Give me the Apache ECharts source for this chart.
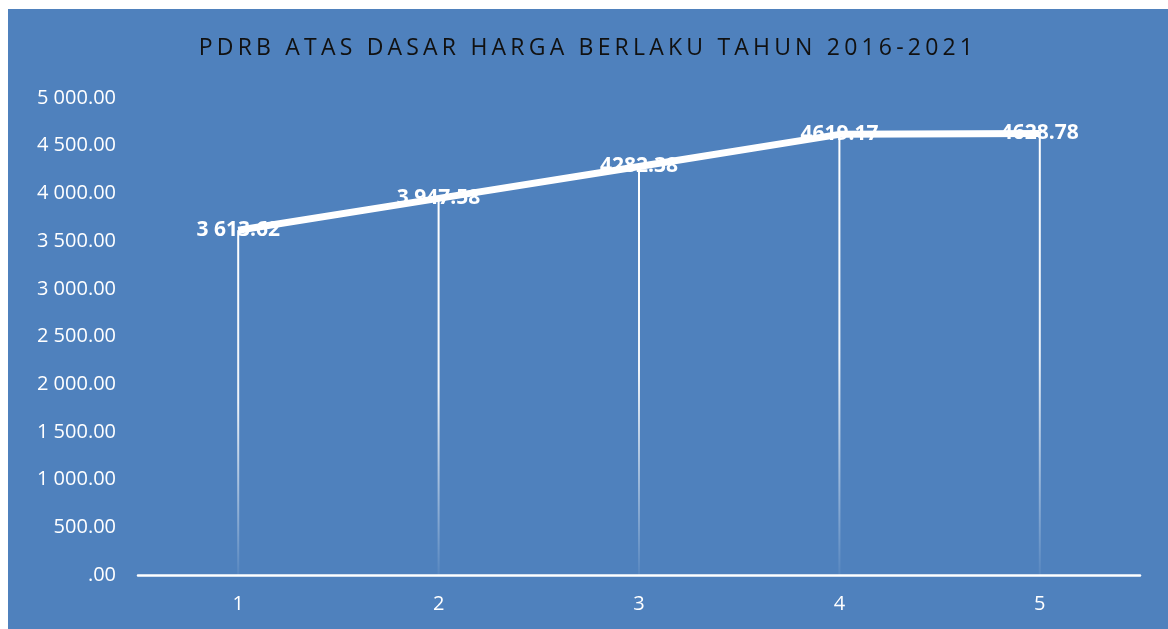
<!DOCTYPE html>
<html>
<head>
<meta charset="utf-8">
<script src="https://cdn.jsdelivr.net/npm/echarts@6/dist/echarts.min.js"></script>
<style>
  html, body { margin: 0; padding: 0; background: #fff; }
  #chart { position: absolute; left: 8px; top: 9px; width: 1160px; height: 620px; }
  #title {
    position: absolute; left: 8px; top: 30px; width: 1160px; text-align: center;
    font-family: "Open Sans", sans-serif; font-size: 23px; letter-spacing: 4.2px;
    color: #111; z-index: 2; pointer-events: none;
  }
</style>
</head>
<body>
<div id="chart"></div>
<div id="title">PDRB ATAS DASAR HARGA BERLAKU TAHUN 2016-2021</div>
<script>
var categories = ['1', '2', '3', '4', '5'];
var values = [3613.62, 3947.58, 4282.38, 4619.17, 4628.78];
var valueLabels = ['3 613.62', '3 947.58', '4282.38', '4619.17', '4628.78'];

function fmtAxis(v) {
  if (v === 0) return '.00';
  var s = v.toFixed(2);
  var parts = s.split('.');
  var intPart = parts[0].replace(/\B(?=(\d{3})+(?!\d))/g, ' ');
  return intPart + '.' + parts[1];
}

var chart = echarts.init(document.getElementById('chart'));

chart.setOption({
  backgroundColor: '#4F81BD',
  animation: false,
  grid: {
    left: 130,
    right: 28,
    top: 89,
    bottom: 54
  },
  xAxis: {
    type: 'category',
    data: categories,
    axisLine: { lineStyle: { color: '#fff', width: 2.5 } },
    axisTick: { show: false },
    axisLabel: { color: '#fff', fontSize: 20, margin: 19, fontFamily: 'Open Sans' }
  },
  yAxis: {
    type: 'value',
    min: 0,
    max: 5000,
    interval: 500,
    axisLine: { show: false },
    axisTick: { show: false },
    splitLine: { show: false },
    axisLabel: {
      color: '#fff', fontSize: 20, margin: 22, fontFamily: 'Open Sans',
      formatter: fmtAxis
    }
  },
  series: [
    {
      type: 'bar',
      data: values,
      barWidth: 2,
      silent: true,
      itemStyle: {
        color: new echarts.graphic.LinearGradient(0, 0, 0, 1, [
          { offset: 0, color: 'rgba(255,255,255,1)' },
          { offset: 0.5, color: 'rgba(255,255,255,0.9)' },
          { offset: 1, color: 'rgba(255,255,255,0.05)' }
        ])
      }
    },
    {
      type: 'line',
      data: values,
      showSymbol: true,
      symbol: 'circle',
      symbolSize: 1,
      itemStyle: { color: '#fff' },
      lineStyle: { color: '#fff', width: 7 },
      label: {
        show: true,
        position: 'inside',
        offset: [2, 3],
        color: '#fff',
        fontSize: 21,
        fontWeight: 'bold',
        fontFamily: 'Open Sans',
        formatter: function (p) { return valueLabels[p.dataIndex]; }
      },
      labelLayout: { hideOverlap: false },
      z: 3
    }
  ]
});
</script>
</body>
</html>
